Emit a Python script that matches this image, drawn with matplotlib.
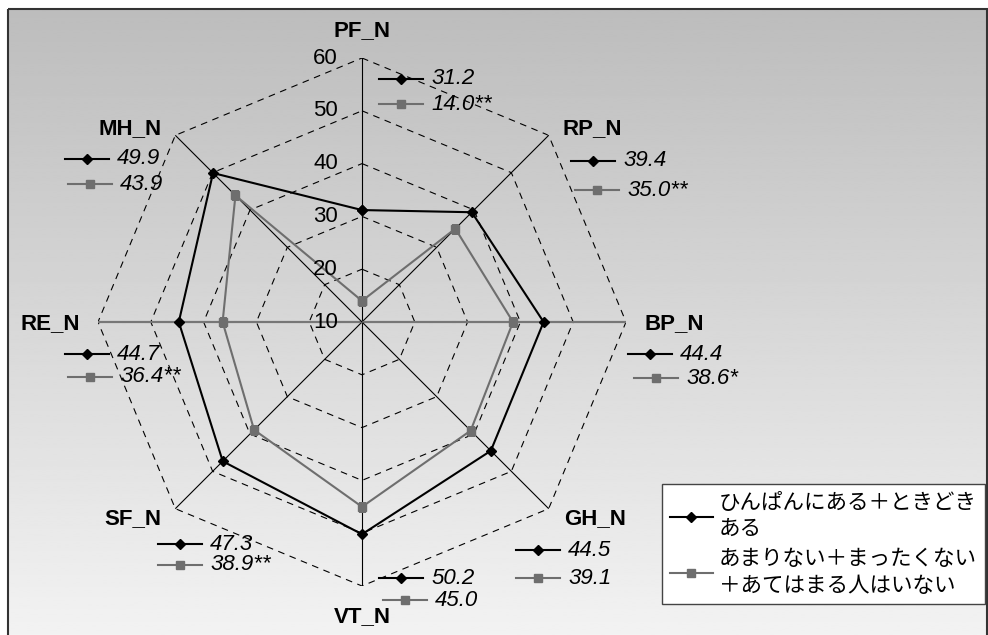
import numpy as np
import matplotlib
matplotlib.use('Agg')
import matplotlib.pyplot as plt
from matplotlib.patches import Rectangle
from matplotlib.lines import Line2D
from matplotlib.font_manager import FontProperties

# --- datos ---
categorias = ['PF_N', 'RP_N', 'BP_N', 'GH_N', 'VT_N', 'SF_N', 'RE_N', 'MH_N']
serie_frecuente = [31.2, 39.4, 44.4, 44.5, 50.2, 47.3, 44.7, 49.9]
serie_rara = [14.0, 35.0, 38.6, 39.1, 45.0, 38.9, 36.4, 43.9]
signif = ['**', '**', '*', '', '', '**', '**', '']
nombres_series = ['ひんぱんにある＋ときどき\nある',
                  'あまりない＋まったくない\n＋あてはまる人はいない']
ticks_r = [10, 20, 30, 40, 50, 60]

W, H = 988, 635
NEGRO = 'black'
GRIS = '#6e6e6e'

fig = plt.figure(figsize=(W / 100, H / 100), dpi=100)

# fondo con degradado y marco
fondo = fig.add_axes([0, 0, 1, 1], zorder=0)
fondo.set_xlim(0, W)
fondo.set_ylim(H, 0)
fondo.axis('off')
grad = np.linspace(0.74, 0.95, 256).reshape(-1, 1)
fondo.imshow(grad, cmap='gray', vmin=0, vmax=1, aspect='auto',
             extent=(8, W, H, 9), interpolation='bilinear')
fondo.add_patch(Rectangle((8, 9), W - 9, H, fill=False, edgecolor='#333333', lw=1.5))

# radar (polar)
cx, cy, rad = 362, 322, 264
ax = fig.add_axes([(cx - rad) / W, (H - cy - rad) / H, 2 * rad / W, 2 * rad / H],
                  projection='polar', zorder=1)
ax.patch.set_visible(False)
ax.set_theta_zero_location('N')
ax.set_theta_direction(-1)
ax.set_ylim(10, 60)
ax.grid(False)
ax.spines['polar'].set_visible(False)
ax.set_xticks([])
ax.set_yticks([])

n = len(categorias)
ang = np.arange(n) * 2 * np.pi / n
ang_c = np.append(ang, ang[0])

# anillos punteados
for r in ticks_r[1:]:
    ax.plot(ang_c, [r] * (n + 1), color='black', lw=0.8, ls=(0, (6, 5)), zorder=1)
# radios
for i, a in enumerate(ang):
    if i in (2, 6):
        ax.plot([a, a], [10, 60], color='#777777', lw=1.6, zorder=1)
    else:
        ax.plot([a, a], [10, 60], color='black', lw=0.8, zorder=1)

# etiquetas del eje radial
for r in ticks_r:
    ax.annotate(str(r), xy=(0, r), xytext=(-24, 0), textcoords='offset pixels',
                ha='right', va='center', fontsize=16, family='Liberation Sans')

# series
l1, = ax.plot(ang_c, np.append(serie_frecuente, serie_frecuente[0]), color=NEGRO, lw=1.5,
              marker='D', ms=5.5, zorder=3, label=nombres_series[0])
l2, = ax.plot(ang_c, np.append(serie_rara, serie_rara[0]), color=GRIS, lw=1.5,
              marker='s', ms=5.5, zorder=2, label=nombres_series[1])

# nombres de categorias
off_cat = [(0, 27, 'center'), (14, 7, 'left'), (18, -2, 'left'), (15, -10, 'left'),
           (0, -31, 'center'), (-14, -10, 'right'), (-18, -2, 'right'), (-14, 7, 'right')]
for a, cat, (dx, dy, ha) in zip(ang, categorias, off_cat):
    ax.annotate(cat, xy=(a, 60), xytext=(dx, dy), textcoords='offset pixels',
                ha=ha, va='center', fontsize=16, fontweight='bold',
                family='Liberation Sans', annotation_clip=False)

# bloques de valores (posicion en pixeles)
bloques = [(379, 79, 104, 0), (571, 161, 190, 4), (628, 354, 378, 6), (516, 550, 578, 0),
           (379, 578, 600, 4), (158, 544, 565, 0), (65, 354, 377, 3), (65, 159, 184, 3)]
top = fig.add_axes([0, 0, 1, 1], zorder=5)
top.set_xlim(0, W)
top.set_ylim(H, 0)
top.axis('off')
for (x0, y1, y2, sx), v1, v2, s in zip(bloques, serie_frecuente, serie_rara, signif):
    for (x, y, col, mk, txt) in [(x0, y1, NEGRO, 'D', f'{v1:.1f}'),
                                 (x0 + sx, y2, GRIS, 's', f'{v2:.1f}' + s)]:
        top.add_line(Line2D([x, x + 44], [y, y], color=col, lw=1.5))
        top.plot([x + 22], [y], marker=mk, color=col, ms=5.5)
        top.text(x + 52, y, txt, ha='left', va='center', fontsize=16,
                 style='italic', family='Liberation Sans')

# leyenda
fp = FontProperties(family=['Noto Sans CJK JP', 'DejaVu Sans'], size=15.5)
leg = ax.legend(handles=[l1, l2], loc='upper left',
                bbox_to_anchor=(662 / W, 1 - 484 / H), bbox_transform=fig.transFigure,
                borderaxespad=0, prop=fp, frameon=True, fancybox=False,
                handlelength=2.0, handletextpad=0.3, borderpad=0.35, labelspacing=0.35)
for t in leg.get_texts():
    t.set_linespacing(1.28)
leg.get_frame().set_edgecolor('#444444')
leg.get_frame().set_linewidth(1.0)
leg.get_frame().set_facecolor('white')
leg.get_frame().set_alpha(1)
leg.set_zorder(10)

fig.savefig('out.png', dpi=100)
